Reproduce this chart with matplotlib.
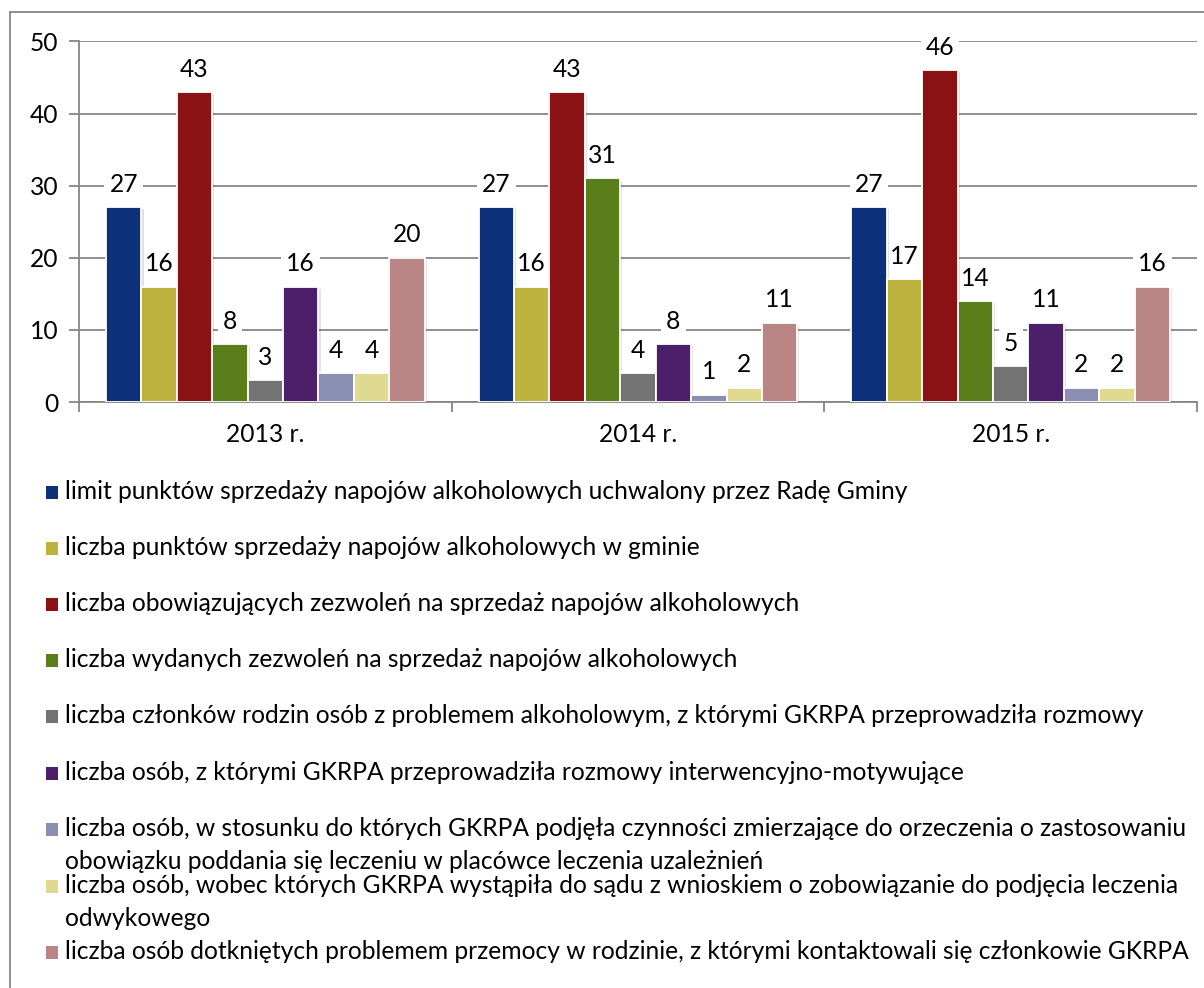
import matplotlib
matplotlib.use("Agg")
import matplotlib.pyplot as plt
import matplotlib.patheffects as pe
from matplotlib.patches import Rectangle
import numpy as np

plt.rcParams['font.family'] = ['Lato', 'DejaVu Sans']

years = ["2013 r.", "2014 r.", "2015 r."]

labels = [
    "limit punktów sprzedaży napojów alkoholowych uchwalony przez Radę Gminy",
    "liczba punktów sprzedaży napojów alkoholowych w gminie",
    "liczba obowiązujących zezwoleń na sprzedaż napojów alkoholowych",
    "liczba wydanych zezwoleń na sprzedaż napojów alkoholowych",
    "liczba członków rodzin osób z problemem alkoholowym, z którymi GKRPA przeprowadziła rozmowy",
    "liczba osób, z którymi GKRPA przeprowadziła rozmowy interwencyjno-motywujące",
    "liczba osób, w stosunku do których GKRPA podjęła czynności zmierzające do orzeczenia o zastosowaniu\nobowiązku poddania się leczeniu w placówce leczenia uzależnień",
    "liczba osób, wobec których GKRPA wystąpiła do sądu z wnioskiem o zobowiązanie do podjęcia leczenia\nodwykowego",
    "liczba osób dotkniętych problemem przemocy w rodzinie, z którymi kontaktowali się członkowie GKRPA",
]

limit_pkt = [27, 27, 27]
pkt_sprzedazy = [16, 16, 17]
zezw_obow = [43, 43, 46]
zezw_wydane = [8, 31, 14]
czlonkowie_rodzin = [3, 4, 5]
rozmowy = [16, 8, 11]
orzeczenie = [4, 1, 2]
wnioski_sad = [4, 2, 2]
przemoc = [20, 11, 16]

series = [limit_pkt, pkt_sprzedazy, zezw_obow, zezw_wydane, czlonkowie_rodzin,
          rozmowy, orzeczenie, wnioski_sad, przemoc]

colors = ["#0C317A", "#BDB33E", "#8A1214", "#5A7F1A", "#737373",
          "#4B1F6A", "#8A8FB2", "#E0DA91", "#B98585"]

W, H = 1204, 988
fig = plt.figure(figsize=(W / 100, H / 100), dpi=100)

# outer frame
fig.patches.append(Rectangle((10 / W, -0.01), 1.2, 1 - 12 / H + 0.01,
                             transform=fig.transFigure, fill=False,
                             edgecolor="#868686", linewidth=1.3))

ax = fig.add_axes([79 / W, 1 - 402 / H, (1197 - 79) / W, (402 - 41.5) / H])

n = len(series)
span = 0.855
bw = span / n
x = np.arange(len(years))
fs = 17.7

for i, vals in enumerate(series):
    pos = x - span / 2 + bw * (i + 0.5)
    bars = ax.bar(pos, vals, width=bw, color=colors[i], edgecolor="white",
                  linewidth=1.3, zorder=3)
    for b in bars:
        b.set_path_effects([pe.SimplePatchShadow(offset=(1.5, -1.5), alpha=0.12),
                            pe.Normal()])
    for p, v in zip(pos, vals):
        ax.annotate(str(v), (p, v), xytext=(0, 16.5), textcoords="offset points",
                    ha="center", va="center", fontsize=fs, color="black",
                    bbox=dict(boxstyle="square,pad=0.2", fc="white", ec="none"),
                    zorder=2.5)

ax.set_xlim(-0.5, 2.5)
ax.set_ylim(0, 50)
ax.set_yticks(range(0, 51, 10))
ax.set_xticks(x)
ax.set_xticklabels(years)
ax.set_xticks([-0.5, 0.5, 1.5, 2.5], minor=True)
ax.tick_params(axis="x", which="major", length=0, pad=15, labelsize=fs)
ax.tick_params(axis="x", which="minor", length=7, color="#868686", width=1.3)
ax.tick_params(axis="y", length=7, color="#868686", width=1.3, pad=8, labelsize=fs)
ax.yaxis.grid(True, color="#868686", linewidth=1.3, zorder=0)
ax.set_axisbelow(True)
for s in ["top", "right"]:
    ax.spines[s].set_visible(False)
for s in ["left", "bottom"]:
    ax.spines[s].set_color("#868686")
    ax.spines[s].set_linewidth(1.3)

# legend drawn by hand to keep Excel-like spacing
legend_y = [492, 548, 604, 660, 716, 773, 829, 886, 952]
line_step = 33
for lab, col, yy in zip(labels, colors, legend_y):
    fig.patches.append(Rectangle((46 / W, 1 - (yy + 7) / H), 12 / W, 13 / H,
                                 transform=fig.transFigure, facecolor=col,
                                 edgecolor="none"))
    for k, line in enumerate(lab.split("\n")):
        fig.text(65 / W, 1 - (yy + 7 + k * line_step) / H, line, fontsize=fs,
                 va="baseline", ha="left")

fig.savefig("out.png", dpi=100)
